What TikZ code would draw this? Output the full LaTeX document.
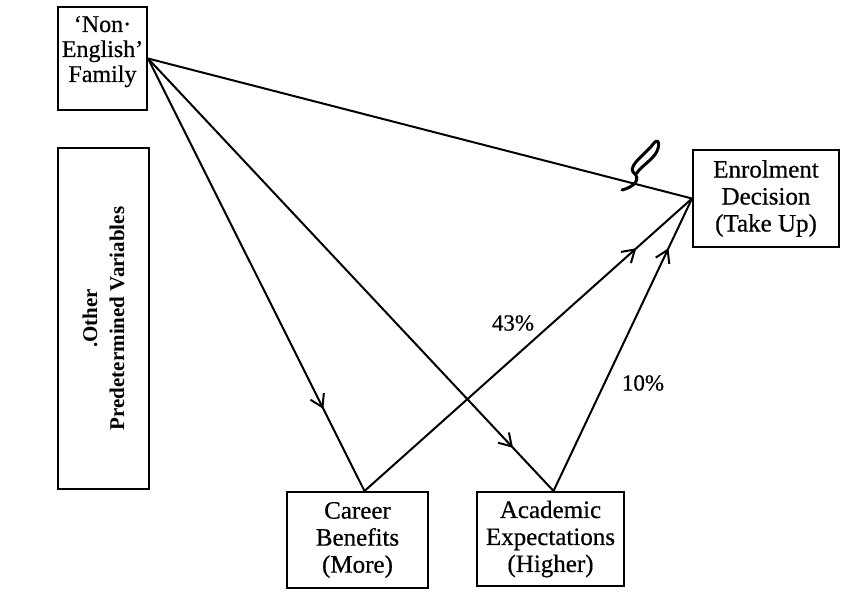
\documentclass[tikz,border=0pt]{standalone}
\usepackage{fontspec}
\setmainfont{Liberation Serif}
\newfontfamily\inkfont[FakeBold=0.6]{Liberation Serif}
\usetikzlibrary{arrows.meta,decorations.markings}
\begin{document}
\begin{tikzpicture}[x=1pt,y=-1pt,
  box/.style={draw, line width=2pt, inner sep=0pt, align=center,
    font=\inkfont\fontsize{25}{27}\selectfont},
  link/.style={line width=2pt},
  pct/.style={font=\inkfont\fontsize{23}{24}\selectfont, inner sep=0pt},
  midarrow/.style={postaction={decorate}, decoration={markings,
    mark=at position #1 with {\arrow{Straight Barb[length=12pt,width=15pt,line width=2pt]}}}},
  ]
\useasboundingbox (0,0) rectangle (841,592);

% boxes
\node[box, minimum width=89pt, minimum height=103pt,
  font=\inkfont\fontsize{24}{25}\selectfont] (fam) at (102.5,58.5)
  {‘Non·\\English’\\Family\\[-6pt]};
\node[box, rotate=90, minimum width=341pt, minimum height=91pt,
  font=\bfseries\fontsize{21}{27}\selectfont] (oth) at (103.5,318.5)
  {.Other\\Predetermined Variables};
\node[box, minimum width=146pt, minimum height=97pt] (enr) at (766,198.5)
  {Enrolment\\Decision\\(Take Up)};
\node[box, minimum width=141pt, minimum height=96pt] (car) at (357.5,540)
  {Career\\Benefits\\(More)};
\node[box, minimum width=147pt, minimum height=94pt] (aca) at (550.5,539)
  {Academic\\Expectations\\(Higher)};

% paths
\draw[link] (fam.east) -- (enr.west);
\draw[link, midarrow=0.81] (fam.east) -- ([xshift=7pt]car.north);
\draw[link, midarrow=0.90] (fam.east) -- ([xshift=3pt]aca.north);
\draw[link, midarrow=0.83] ([xshift=7pt]car.north) -- (enr.west);
\draw[link, midarrow=0.83] ([xshift=3pt]aca.north) -- (enr.west);

% path weights
\node[pct] (w43) at (513,323) {43\%};
\node[pct] (w10) at (643,383) {10\%};

% hand-drawn break mark on the direct path
\draw[line width=3pt, line cap=round]
  (622,190) .. controls (634,187) and (642,179) .. (633,172)
  .. controls (628,165) and (648,152) .. (654,143)
  .. controls (660,136) and (661,150) .. (652,158)
  .. controls (645,165) and (640,168) .. (636,174);
\end{tikzpicture}
\end{document}
